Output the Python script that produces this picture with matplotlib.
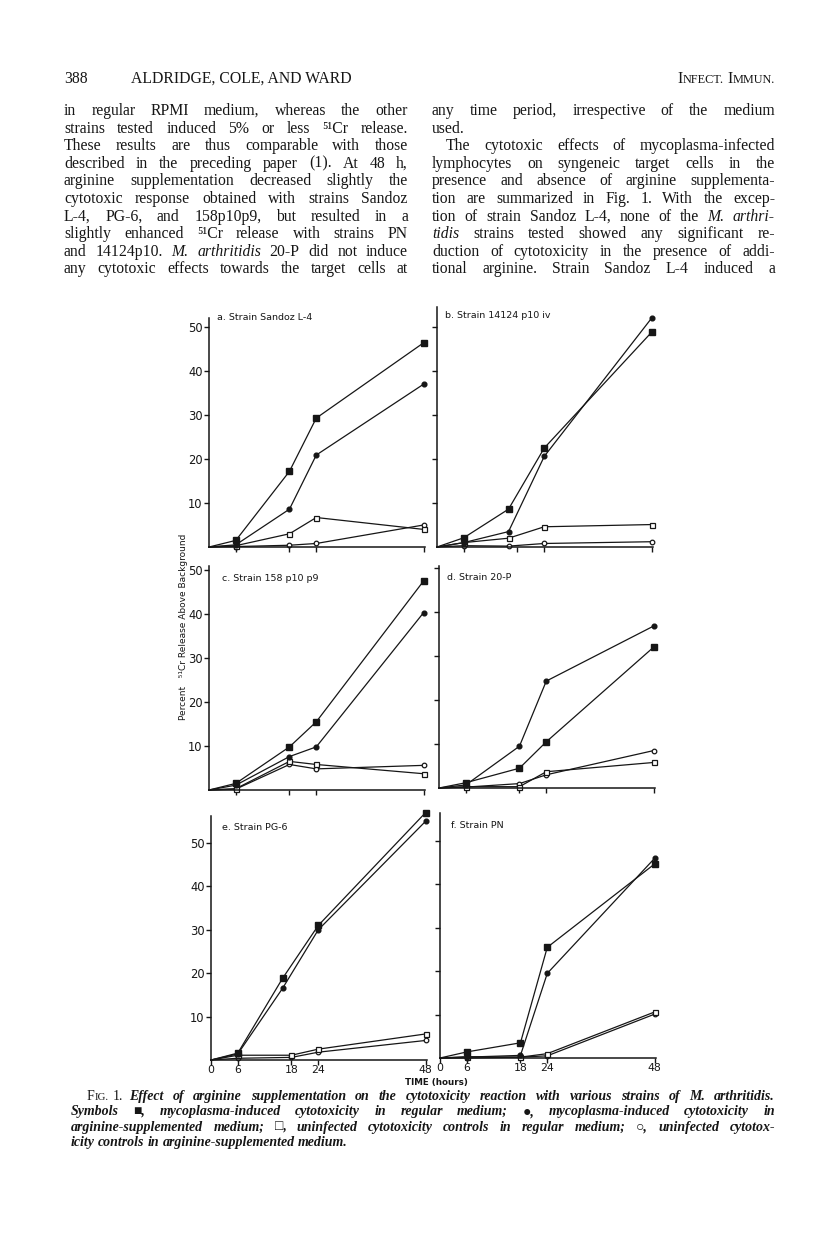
import numpy as np
import matplotlib.pyplot as plt

W, H = 816, 1245
DPI = 100

# time points (h); panel b and the filled symbols of panel e sit left of the 18 h tick
HOURS = [0, 6, 18, 24, 48]
HOURS_EARLY = [0, 6, 16, 24, 48]

# a. Strain Sandoz L-4
A_SQ = [0, 1.5, 17.2, 29.3, 46.4]
A_CI = [0, 0.5, 8.6, 20.9, 37.0]
A_OSQ = [0, 0.3, 3.0, 6.7, 4.0]
A_OCI = [0, 0.1, 0.4, 0.8, 5.0]

# b. Strain 14124 p10 iv
B_SQ = [0, 2.1, 8.6, 22.5, 48.8]
B_CI = [0, 1.0, 3.5, 20.6, 52.0]
B_OSQ = [0, 1.0, 2.0, 4.6, 5.1]
B_OCI = [0, 0.3, 0.2, 0.8, 1.2]

# c. Strain 158 p10 p9
C_SQ = [0, 1.5, 9.8, 15.5, 47.5]
C_CI = [0, 1.1, 7.6, 9.8, 40.3]
C_OSQ = [0, 0.3, 6.5, 5.8, 3.7]
C_OCI = [0, 0.2, 5.8, 4.8, 5.6]

# d. Strain 20-P
D_SQ = [0, 1.2, 4.5, 10.5, 32.0]
D_CI = [0, 0.7, 9.5, 24.3, 36.8]
D_OSQ = [0, 0.3, 0.3, 3.7, 5.8]
D_OCI = [0, 0.2, 1.0, 3.0, 8.5]

# e. Strain PG-6
E_SQ = [0, 1.6, 18.8, 31.0, 57.0]
E_CI = [0, 1.4, 16.5, 30.0, 55.0]
E_OSQ = [0, 1.1, 1.1, 2.5, 6.0]
E_OCI = [0, 0.4, 0.6, 1.8, 4.5]

# f. Strain PN
F_SQ = [0, 1.4, 3.5, 25.5, 44.7]
F_CI = [0, 0.2, 0.6, 19.5, 46.0]
F_OSQ = [0, 0.3, 0.2, 1.0, 10.6]
F_OCI = [0, 0.0, 0.2, 0.5, 10.1]

LABELS = ["a. Strain Sandoz L-4", "b. Strain 14124 p10 iv", "c. Strain 158 p10 p9",
          "d. Strain 20-P", "e. Strain PG-6", "f. Strain PN"]

HEADER_LEFT = "388"
HEADER_AUTHORS = "ALDRIDGE, COLE, AND WARD"

LEFT_COL = [
    "in regular RPMI medium, whereas the other",
    "strains tested induced 5% or less \u2075\u00b9Cr release.",
    "These results are thus comparable with those",
    "described in the preceding paper (1). At 48 h,",
    "arginine supplementation decreased slightly the",
    "cytotoxic response obtained with strains Sandoz",
    "L-4, PG-6, and 158p10p9, but resulted in a",
    "slightly enhanced \u2075\u00b9Cr release with strains PN",
    "and 14124p10. _M._ _arthritidis_ 20-P did not induce",
    "any cytotoxic effects towards the target cells at",
]
RIGHT_COL = [
    "any time period, irrespective of the medium",
    "used.",
    "The cytotoxic effects of mycoplasma-infected",
    "lymphocytes on syngeneic target cells in the",
    "presence and absence of arginine supplementa-",
    "tion are summarized in Fig. 1. With the excep-",
    "tion of strain Sandoz L-4, none of the _M._ _arthri-_",
    "_tidis_ strains tested showed any significant re-",
    "duction of cytotoxicity in the presence of addi-",
    "tional arginine. Strain Sandoz L-4 induced a",
]
CAPTION = [
    "Effect of arginine supplementation on the cytotoxicity reaction with various strains of M. arthritidis.",
    "Symbols \u25a0, mycoplasma-induced cytotoxicity in regular medium; \u25cf, mycoplasma-induced cytotoxicity in",
    "arginine-supplemented medium; \u25a1, uninfected cytotoxicity controls in regular medium; \u25cb, uninfected cytotox-",
    "icity controls in arginine-supplemented medium.",
]

INK = "#161616"
SERIF = ["Liberation Serif", "DejaVu Serif", "DejaVu Sans"]
SANS = ["DejaVu Sans"]

fig = plt.figure(figsize=(W / DPI, H / DPI), dpi=DPI)
rend = fig.canvas.get_renderer()


def fx(px):
    return px / W


def fy(py):
    return 1 - py / H


def text_w(s, **kw):
    t = fig.text(0, 0, s, **kw)
    w = t.get_window_extent(renderer=rend).width
    t.remove()
    return w


def split_words(line, base):
    # words wrapped in _..._ use the other style (italic/roman)
    other = "italic" if base == "normal" else "normal"
    items = []
    for w in line.split(" "):
        st = other if (w.startswith("_") and len(w) > 1) else base
        items.append((w.strip("_") if st == other else w, st))
    return items


def natural_width(line, size, base="normal", **kw):
    items = split_words(line, base)
    ws = [text_w(w, fontsize=size, style=st, family=SERIF, **kw) for w, st in items]
    return sum(ws) + (len(items) - 1) * size * 0.32


def fit_size(lines, width, ref=10.0, cap=12.0, **kw):
    worst = max(natural_width(l, ref, **kw) for l in lines)
    return min(cap, ref * width / worst)


def put_line(line, x0, y, x1=None, size=9.5, base="normal", **kw):
    items = split_words(line, base)
    ws = [text_w(w, fontsize=size, style=st, family=SERIF, **kw) for w, st in items]
    if x1 is None or len(items) == 1:
        gap = size * 0.32
    else:
        gap = (x1 - x0 - sum(ws)) / (len(items) - 1)
    x = x0
    for (w, st), wd in zip(items, ws):
        fig.text(fx(x), fy(y), w, fontsize=size, style=st, family=SERIF,
                 va="baseline", ha="left", color=INK, **kw)
        x += wd + gap


# ---- running head and body text
BODY = fit_size(LEFT_COL + RIGHT_COL, 344, cap=11.3)
fig.text(fx(64), fy(83), HEADER_LEFT, fontsize=BODY, family=SERIF, color=INK)
fig.text(fx(131), fy(83), HEADER_AUTHORS, fontsize=BODY, family=SERIF, color=INK)
# small caps "INFECT. IMMUN." set flush right
runs = [("I", BODY), ("NFECT.", BODY * 0.78), (" ", 0), ("I", BODY), ("MMUN.", BODY * 0.78)]
widths = [text_w(s, fontsize=sz, family=SERIF) if s != " " else 4 for s, sz in runs]
x = 775 - sum(widths)
for (s, sz), wd in zip(runs, widths):
    if s != " ":
        fig.text(fx(x), fy(83), s, fontsize=sz, family=SERIF, color=INK)
    x += wd

LINE = 17.6
for i, ln in enumerate(LEFT_COL):
    put_line(ln, 64, 115 + i * LINE, 408, size=BODY)
for i, ln in enumerate(RIGHT_COL):
    if i == 1:
        put_line(ln, 432, 115 + i * LINE, size=BODY)
    elif i == 2:
        put_line(ln, 446, 115 + i * LINE, 775, size=BODY)
    else:
        put_line(ln, 432, 115 + i * LINE, 775, size=BODY)

# ---- caption
CAPS = fit_size(CAPTION[1:3], 704, cap=10.0, base="italic", weight="bold")
CAP = 15.3
cy = 1100
xs = 87
for s, sz in [("F", CAPS), ("IG.", CAPS * 0.78)]:
    fig.text(fx(xs), fy(cy), s, fontsize=sz, family=SERIF, color=INK)
    xs += text_w(s, fontsize=sz, family=SERIF)
xs += 4
fig.text(fx(xs), fy(cy), "1.", fontsize=CAPS, family=SERIF, color=INK)
xs += text_w("1.", fontsize=CAPS, family=SERIF) + 6
put_line(CAPTION[0], xs, cy, 775, size=CAPS, base="italic", weight="bold")
for i in range(1, 4):
    put_line(CAPTION[i], 71, cy + i * CAP, 775 if i < 3 else None, size=CAPS,
             base="italic", weight="bold")

# ---- the six panels
PX_H = 4.47
PANELS = [
    # left px, zero-line px, y top, px per unit, label pos, hours, data
    (209, 547, 52.0, 4.4, (217, 318), HOURS, (A_SQ, A_CI, A_OSQ, A_OCI)),
    (437, 547, 54.5, 4.4, (445, 316), HOURS_EARLY, (B_SQ, B_CI, B_OSQ, B_OCI)),
    (209, 790, 50.8, 4.4, (222, 579), HOURS, (C_SQ, C_CI, C_OSQ, C_OCI)),
    (439, 788, 50.4, 4.4, (447, 578), HOURS, (D_SQ, D_CI, D_OSQ, D_OCI)),
    (211, 1060, 56.3, 4.34, (222, 828), HOURS, (E_SQ, E_CI, E_OSQ, E_OCI)),
    (440, 1058, 56.5, 4.34, (451, 826), HOURS, (F_SQ, F_CI, F_OSQ, F_OCI)),
]

for k, (lx, zy, ytop, pxu, lab, hrs, (sq, ci, osq, oci)) in enumerate(PANELS):
    ax = fig.add_axes([fx(lx), fy(zy), 48.4 * PX_H / W, ytop * pxu / H])
    ax.set_xlim(0, 48.4)
    ax.set_ylim(0, ytop)
    ax.patch.set_alpha(0)
    for s in ("top", "right"):
        ax.spines[s].set_visible(False)
    for s in ("left", "bottom"):
        ax.spines[s].set_linewidth(1.1)
        ax.spines[s].set_color(INK)
    kw = dict(color=INK, lw=0.9, markevery=[1, 2, 3, 4], clip_on=False)
    hrs_filled = HOURS_EARLY if k == 4 else hrs
    ax.plot(hrs, oci, marker="o", ms=3.3, mfc="white", mec=INK, mew=0.9, **kw)
    ax.plot(hrs, osq, marker="s", ms=3.6, mfc="white", mec=INK, mew=0.9, **kw)
    ax.plot(hrs_filled, ci, marker="o", ms=3.4, mfc=INK, mec=INK, **kw)
    ax.plot(hrs_filled, sq, marker="s", ms=4.3, mfc=INK, mec=INK, **kw)

    ax.set_yticks([10, 20, 30, 40, 50])
    ax.set_xticks([0, 6, 18, 24, 48] if k >= 4 else [6, 18, 24, 48])
    ax.tick_params(direction="out", length=3.5, width=1.0, color=INK, pad=1,
                   labelsize=8.3, labelcolor=INK)
    ax.tick_params(axis="y", labelleft=(k % 2 == 0))
    ax.tick_params(axis="x", labelbottom=(k >= 4), pad=0, labelsize=7.8)
    for t in ax.get_yticklabels() + ax.get_xticklabels():
        t.set_family(SANS)
    fig.text(fx(lab[0]), fy(lab[1]), LABELS[k], fontsize=6.8, family=SANS,
             va="center", ha="left", color=INK)

fig.text(fx(183), fy(627), "Percent   \u2075\u00b9Cr Release Above Background", rotation=90,
         fontsize=6.5, family=SANS, va="center", ha="center", color=INK)
fig.text(fx(436), fy(1083), "TIME (hours)", fontsize=6.3, family=SANS,
         weight="bold", va="center", ha="center", color=INK)

fig.savefig("out.png", dpi=DPI)
